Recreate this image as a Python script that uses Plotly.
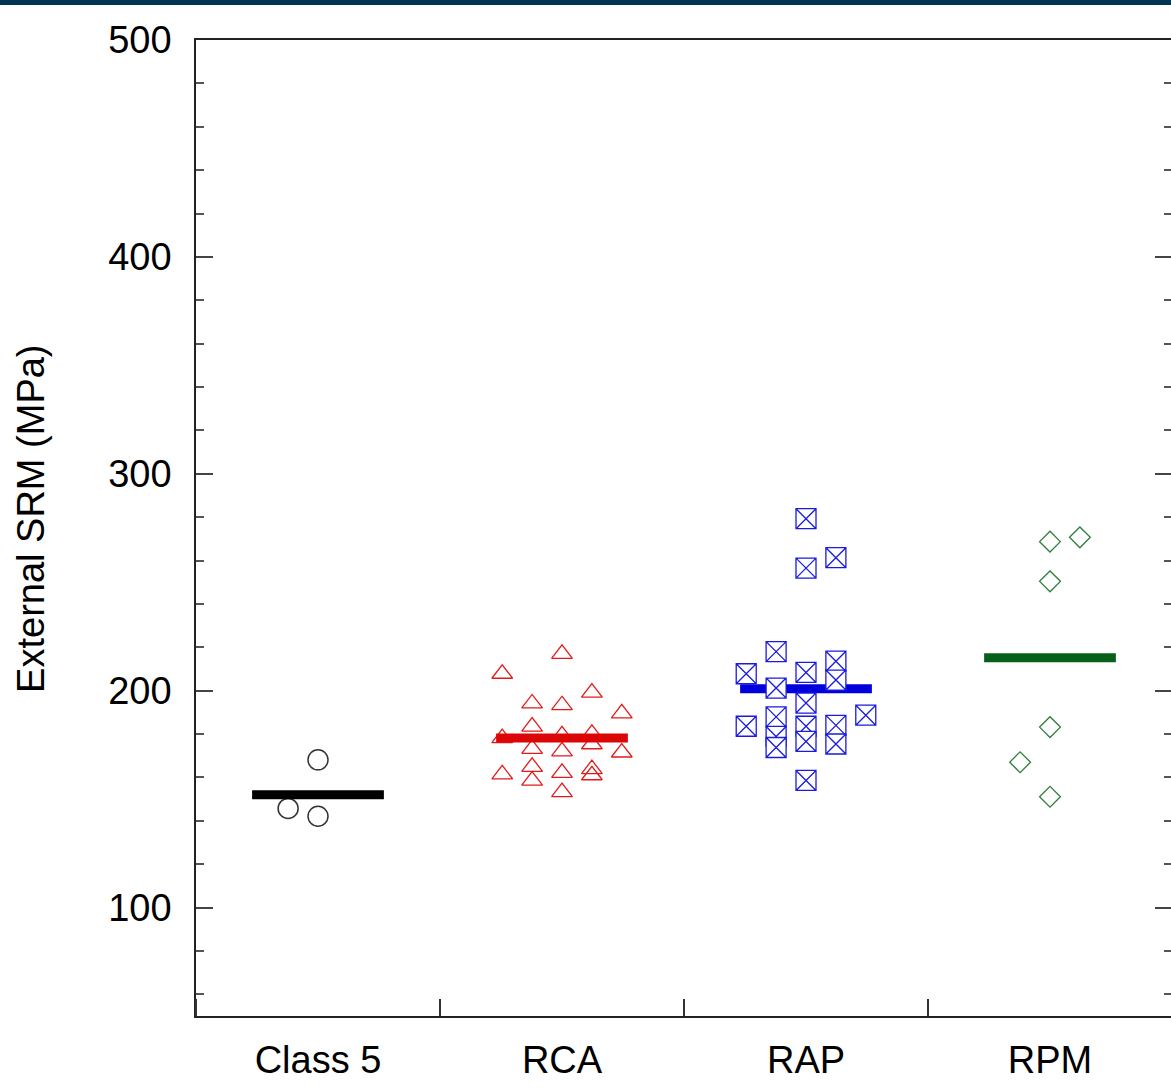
import plotly.graph_objects as go

# ---------------- data ----------------
categories = ["Class 5", "RCA", "RAP", "RPM"]

class5_vals = [168.1, 145.7, 142.1]
class5_cols = [0, -1, 0]

rca_vals = [217.0, 207.8, 199.1, 194.1, 193.3, 189.5, 183.4, 178.1, 179.4, 180.1,
            173.2, 172.0, 175.3, 171.5, 164.9, 161.4, 162.1, 163.8, 161.0, 158.5, 153.2]
rca_cols = [0, -2, 1, -1, 0, 2, -1, -2, 0, 1,
            -1, 0, 1, 2, -1, -2, 0, 1, 1, -1, 0]

rap_vals = [279.3, 261.3, 256.5, 218.0, 207.8, 208.4, 213.6, 204.9, 201.2, 194.3,
            188.7, 183.6, 187.9, 183.6, 184.0, 178.9, 176.6, 173.8, 175.4, 158.6]
rap_cols = [0, 1, 0, -1, -2, 0, 1, 1, -1, 0,
            2, -2, -1, 0, 1, -1, 0, -1, 1, 0]

rpm_vals = [268.7, 270.7, 250.4, 183.2, 167.0, 151.1]
rpm_cols = [0, 1, 0, 0, -1, 0]

mean_vals = [152.0, 178.2, 200.9, 215.2]

y_ticks = [100, 200, 300, 400, 500]

# ---------------- style ----------------
STEP = 0.1225        # horizontal spacing of stacked points (category units)
HALF = 0.27          # half-width of mean bars
FONT = "Liberation Sans, Arial, sans-serif"
W, H = 1172, 1088

fig = go.Figure()


def pts(idx, vals, cols, symbol, size, color, lw, fill=None, yaxis="y"):
    x = [idx + 1 + c * STEP for c in cols]
    marker = dict(symbol=symbol, size=size, color=fill if fill else color,
                  line=dict(color=color, width=lw))
    fig.add_trace(go.Scatter(x=x, y=vals, mode="markers", marker=marker,
                             showlegend=False, hoverinfo="y", yaxis=yaxis))


def bar(idx, color, yaxis="y"):
    m = mean_vals[idx]
    fig.add_trace(go.Scatter(x=[idx + 1 - HALF, idx + 1 + HALF], y=[m, m],
                             mode="lines", line=dict(color=color, width=9),
                             showlegend=False, hoverinfo="y", yaxis=yaxis))


pts(0, class5_vals, class5_cols, "circle-open", 20, "#333333", 1.5)
bar(0, "#000000")
pts(1, rca_vals, rca_cols, "triangle-up-open", 18, "#E31A1A", 1.3)
bar(1, "#DD0606")
bar(2, "#0000DD")
pts(2, rap_vals, rap_cols, "square-x", 20, "#1A1AE0", 1.3, fill="#FFFFFF")
# RPM group is drawn on the right-hand (mirrored, same-scale) y axis so its ticks show
pts(3, rpm_vals, rpm_cols, "diamond-open", 16, "#2E7D3A", 1.3, yaxis="y2")
bar(3, "#07601A", yaxis="y2")

y_minor = dict(tick0=0, dtick=20, ticks="inside", ticklen=8,
               tickcolor="#555555", tickwidth=1.5, showgrid=False)

fig.update_layout(
    width=W, height=H, autosize=False,
    margin=dict(l=196, r=0, t=40, b=72),
    paper_bgcolor="white", plot_bgcolor="white",
    font=dict(family=FONT, size=38, color="black"),
    xaxis=dict(
        range=[0.5, 4.5], tickvals=[1, 2, 3, 4], ticktext=categories,
        ticks="", showgrid=False, zeroline=False,
        showline=True, linecolor="#222222", linewidth=1.5, mirror=True,
        ticklabelstandoff=10,
        minor=dict(tick0=0.5, dtick=1, ticks="inside", ticklen=17,
                   tickcolor="#333333", tickwidth=1.5, showgrid=False),
        tickfont=dict(size=38, family=FONT, color="black"),
    ),
    yaxis=dict(
        range=[50, 500], tickvals=y_ticks,
        ticks="inside", ticklen=17, tickcolor="#444444", tickwidth=1.5,
        showgrid=False, zeroline=False,
        showline=True, linecolor="#222222", linewidth=1.5, mirror=False,
        ticklabelstandoff=15, minor=y_minor,
        tickfont=dict(size=38, family=FONT, color="black"),
    ),
    yaxis2=dict(
        overlaying="y", side="right", range=[50, 500],
        tickvals=y_ticks, ticks="inside", ticklen=17, tickcolor="#444444",
        tickwidth=1.5, showgrid=False, zeroline=False, showline=False,
        showticklabels=False, minor=y_minor,
    ),
    shapes=[dict(type="rect", xref="paper", yref="paper",
                 x0=-0.21, x1=1.01, y0=1.0359, y1=1.06,
                 fillcolor="#003554", line=dict(width=0), layer="above")],
    annotations=[dict(text="External SRM (MPa)", xref="paper", yref="paper",
                      x=-0.1692, y=0.5092, textangle=-90, showarrow=False,
                      xanchor="center", yanchor="middle",
                      font=dict(size=38, family=FONT, color="black"))],
)

post = ("document.body.style.margin='0';document.body.style.padding='0';"
        "document.documentElement.style.overflow='hidden';"
        "document.body.style.overflow='hidden';"
        "var gd=document.getElementById('{plot_id}');"
        "gd.style.width='%dpx';gd.style.height='%dpx';"
        "Plotly.relayout(gd,{width:%d,height:%d});" % (W, H, W, H))

fig.write_html("out.html", post_script=post,
               config={"responsive": False, "displayModeBar": False})
